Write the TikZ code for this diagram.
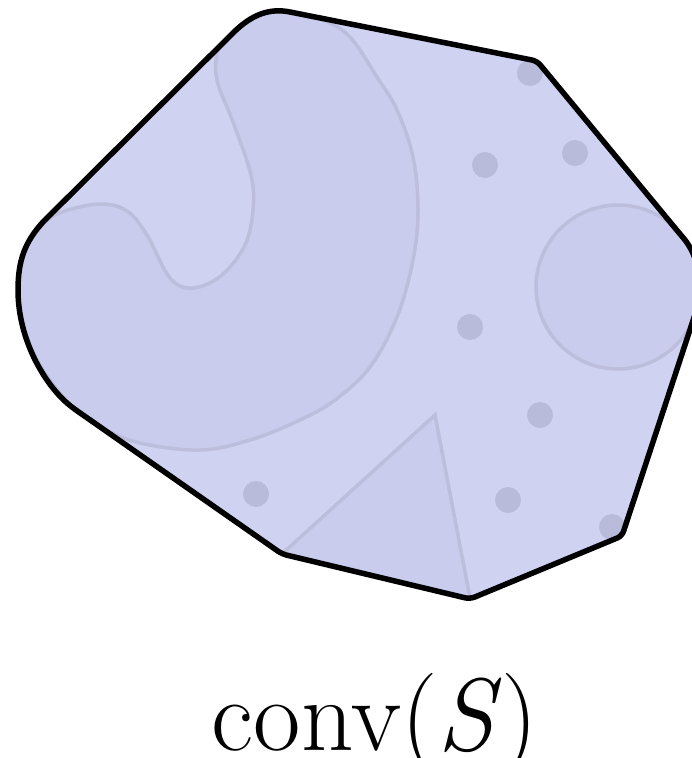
\documentclass[tikz,border=0pt]{standalone}
\usepackage{amsmath}
\usepackage{tikz}
\usepackage{color}
\definecolor{hullfill}{RGB}{208,210,241}
\definecolor{shapefill}{RGB}{202,204,238}
\definecolor{shapeline}{RGB}{188,190,220}
\definecolor{speckfill}{RGB}{185,187,218}
\tikzset{
  hull/.style={draw=black, line width=5.5pt, line join=round},
  region/.style={fill=shapefill, draw=shapeline, line width=3.5pt},
  speck/.style={fill=speckfill}
}
% outline of conv(S)
\newcommand{\hullpath}{(290,12) [rounded corners=5pt] -- (537,61) -- (680,234)
  arc[start angle=-40.5, end angle=17.8, radius=82]
  -- (622,536) -- (470,599) -- (282,554) -- (73,408) [sharp corners]
  .. controls (45,385) and (18,340) .. (18,290)
  .. controls (18,260) and (25,242) .. (43,222)
  -- (233,33) .. controls (252,14) and (270,8) .. (290,12) -- cycle}

\begin{document}
\begin{tikzpicture}[x=1pt, y=-1pt]
\useasboundingbox (0,0) rectangle (692,758);
\fill[hullfill] \hullpath;
\begin{scope}
  \clip \hullpath;
  % the set S
  \draw[region] plot[smooth cycle, tension=0.6] coordinates {
    (295,13) (323,20) (350,37) (377,77) (397,110) (413,157) (418,210)
    (413,260) (397,317) (370,367) (335,400) (300,420) (250,440) (200,450)
    (140,443) (100,427) (73,408)
    (40,365) (22,322) (18,288) (25,250) (42,225) (62,212) (100,204)
    (127,211) (147,235) (170,278) (193,288) (222,275) (245,245) (253,210)
    (251,175) (233,122) (217,80) (218,50) (232,30) (262,14)};
  \draw[region] (618,287) circle[radius=82];
  \draw[region] (283,553) -- (435,415) -- (470,598) -- cycle;
  \foreach \x/\y in {530/73, 575/153, 485/165, 470/327, 540/415,
                     508/500, 612/527, 256/494}
    \fill[speck] (\x,\y) circle[radius=13];
\end{scope}
\draw[hull] \hullpath;
\node[anchor=base] (label) at (375,750)
  {\fontsize{103}{105}\selectfont conv(\textit{S})};
\end{tikzpicture}
\end{document}
